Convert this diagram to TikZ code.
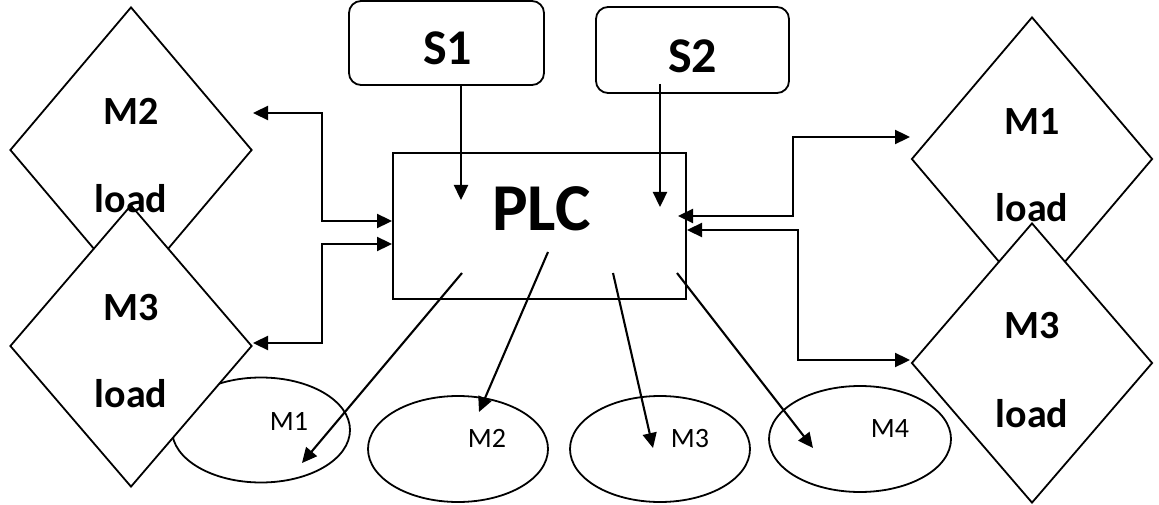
\documentclass[tikz,border=0pt]{standalone}
\usepackage{fontspec}
\setmainfont{Carlito}
\usetikzlibrary{shapes.geometric,arrows.meta}
\begin{document}
\begin{tikzpicture}[x=1pt,y=-1pt,
 shp/.style={draw,line width=1.8pt},
 diam/.style={shp,diamond,inner sep=0pt,fill=white},
 ell/.style={shp,ellipse,inner sep=0pt},
 sbox/.style={shp,rounded corners=12pt,inner sep=0pt},
 big/.style={font=\fontsize{40}{48}\selectfont\bfseries,inner sep=0pt,anchor=base},
 small/.style={font=\fontsize{28}{34}\selectfont,inner sep=0pt,anchor=base},
 tip/.tip={Triangle[length=15pt,width=14pt]},
 arr/.style={line width=2.3pt,-tip},
 darr/.style={line width=2.3pt,tip-tip},
 diag/.style={line width=2.1pt,-tip}]
\useasboundingbox (0,0) rectangle (1159,505);
% ellipses
\node[ell,minimum width=178pt,minimum height=105pt] (e1) at (261,430) {};
\node[ell,minimum width=180pt,minimum height=106pt] (e2) at (458,449) {};
\node[ell,minimum width=180pt,minimum height=106pt] (e3) at (660,449) {};
\node[ell,minimum width=182pt,minimum height=106pt] (e4) at (860,439) {};
% diamonds
\node[diam,minimum width=242pt,minimum height=286pt] (d2l) at (131,150) {};
\node[diam,minimum width=242pt,minimum height=282pt] (d3l) at (131,346) {};
\node[diam,minimum width=241pt,minimum height=284pt] (d1r) at (1032,159) {};
\node[diam,minimum width=241pt,minimum height=280pt] (d3r) at (1032,363) {};
% boxes
\node[sbox,minimum width=195pt,minimum height=84pt] (s1) at (446.5,43) {};
\node[sbox,minimum width=193pt,minimum height=86pt] (s2) at (692.5,50) {};
\node[shp,inner sep=0pt,minimum width=293pt,minimum height=146pt] (plc) at (539.5,226) {};
% texts
\node[big] (t2l) at (131,125) {M2};
\node[big] (t2ll) at (131,212) {load};
\node[big] (t3l) at (131,320) {M3};
\node[big] (t3ll) at (131,407) {load};
\node[big] (t1r) at (1032,135) {M1};
\node[big] (t1rl) at (1032,222) {load};
\node[big] (t3r) at (1032,338) {M3};
\node[big] (t3rl) at (1032,427) {load};
\node[big,font=\fontsize{50}{60}\selectfont\bfseries] (ts1) at (447.5,65) {S1};
\node[big,font=\fontsize{50}{60}\selectfont\bfseries] (ts2) at (692.5,73) {S2};
\node[big,font=\fontsize{67}{80}\selectfont\bfseries] (tplc) at (541.5,230) {PLC};
\node[small] (te1) at (289,430) {M1};
\node[small] (te2) at (487,447) {M2};
\node[small] (te3) at (690,447) {M3};
\node[small] (te4) at (890,437) {M4};
% connector points
\coordinate (s1o) at (461,86);  \coordinate (s1i) at (461,200);
\coordinate (s2o) at (660,84);  \coordinate (s2i) at (660,207);
\coordinate (lu1) at (253,113); \coordinate (lu2) at (392,221);
\coordinate (ll1) at (392,244); \coordinate (ll2) at (253,343);
\coordinate (ru1) at (678,216); \coordinate (ru2) at (910,137);
\coordinate (rl1) at (687,230); \coordinate (rl2) at (910,360);
\coordinate (o1) at (462,273); \coordinate (i1) at (302,463);
\coordinate (o2) at (548,252); \coordinate (i2) at (479,412);
\coordinate (o3) at (613,273); \coordinate (i3) at (653,448);
\coordinate (o4) at (677,273); \coordinate (i4) at (813,448);
% connectors
\draw[arr] (s1o) -- (s1i);
\draw[arr] (s2o) -- (s2i);
\draw[darr] (lu1) -- (322,113) -- (322,221) -- (lu2);
\draw[darr] (ll1) -- (322,244) -- (322,343) -- (ll2);
\draw[darr] (ru1) -- (793,216) -- (793,137) -- (ru2);
\draw[darr] (rl1) -- (798,230) -- (798,360) -- (rl2);
\draw[diag] (o1) -- (i1);
\draw[diag] (o2) -- (i2);
\draw[diag] (o3) -- (i3);
\draw[diag] (o4) -- (i4);
\end{tikzpicture}
\end{document}
